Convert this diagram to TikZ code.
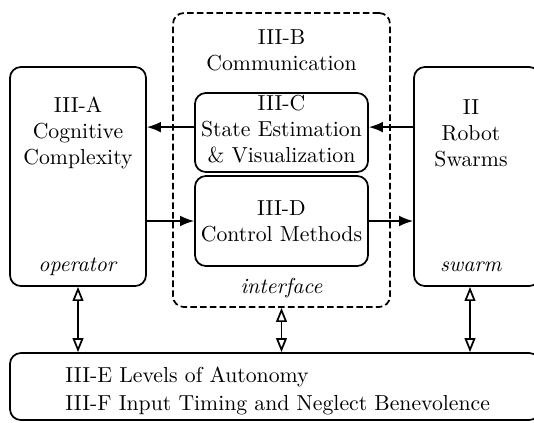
\documentclass[tikz,border=0pt]{standalone}
\usetikzlibrary{arrows.meta}
\newcommand{\pxu}{0.4607pt}
\tikzset{
  box/.style={draw, thick, rounded corners=5pt, inner sep=0pt},
  dashbox/.style={box, dash pattern=on 3pt off 1.5pt},
  lbl/.style={align=center, inner sep=0pt},
  arr/.style={thick, -{Latex[length=6.5pt,width=5pt]}},
  dbl/.style={thick, {Triangle[open,length=6.5pt,width=5pt]}-{Triangle[open,length=6.5pt,width=5pt]}}
}
\begin{document}
\begin{tikzpicture}[x=\pxu, y=-\pxu]
\useasboundingbox (0,0) rectangle (534,422);
% outer blocks
\node[box, minimum width=136*\pxu, minimum height=219*\pxu] (operator) at (78,176.5) {};
\node[dashbox, minimum width=217*\pxu, minimum height=294*\pxu] (iface) at (281.5,160) {};
\node[box, minimum width=126*\pxu, minimum height=219*\pxu] (swarm) at (477,176.5) {};
\node[box, minimum width=530*\pxu, minimum height=67*\pxu] (autonomy) at (275,386.5) {};
% inner blocks
\node[box, minimum width=173*\pxu, minimum height=79*\pxu] (stateest) at (281.5,132.5) {};
\node[box, minimum width=173*\pxu, minimum height=90*\pxu, align=center] (control) at (281.5,221) {III-D\\Control Methods};
% labels
\node[lbl] (operatortxt) at (78,133) {III-A\\Cognitive\\Complexity};
\node[lbl] (operatorname) at (78,267) {\textit{operator}};
\node[lbl] (swarmtxt) at (471,133) {II\\Robot\\Swarms};
\node[lbl] (swarmname) at (471,267) {\textit{swarm}};
\node[lbl] (ifacetxt) at (281.5,50) {III-B\\Communication};
\node[lbl] (ifacename) at (281.5,288) {\textit{interface}};
\node[lbl] (stateesttxt) at (281.5,129) {III-C\\State Estimation\\\& Visualization};
\node[align=left, inner sep=0pt, anchor=west] (autonomytxt) at (65,391) {III-E Levels of Autonomy\\[1pt]III-F Input Timing and Neglect Benevolence};
% connectors
\coordinate (feedback) at ([yshift=2.5pt]stateest.west);
\coordinate (feedin) at ([yshift=2.5pt]stateest.east);
\draw[arr] (feedback) -- (feedback -| operator.east);
\draw[arr] (feedin -| swarm.west) -- (feedin);
\draw[arr] (control.west -| operator.east) -- (control.west);
\draw[arr] (control.east) -- (control.east -| swarm.west);
\draw[dbl] (operator.south) -- (operator.south |- autonomy.north);
\draw[dbl] (iface.south) -- (iface.south |- autonomy.north);
\draw[dbl] (swarm.south -| 470,0) -- (autonomy.north -| 470,0);
\end{tikzpicture}
\end{document}
